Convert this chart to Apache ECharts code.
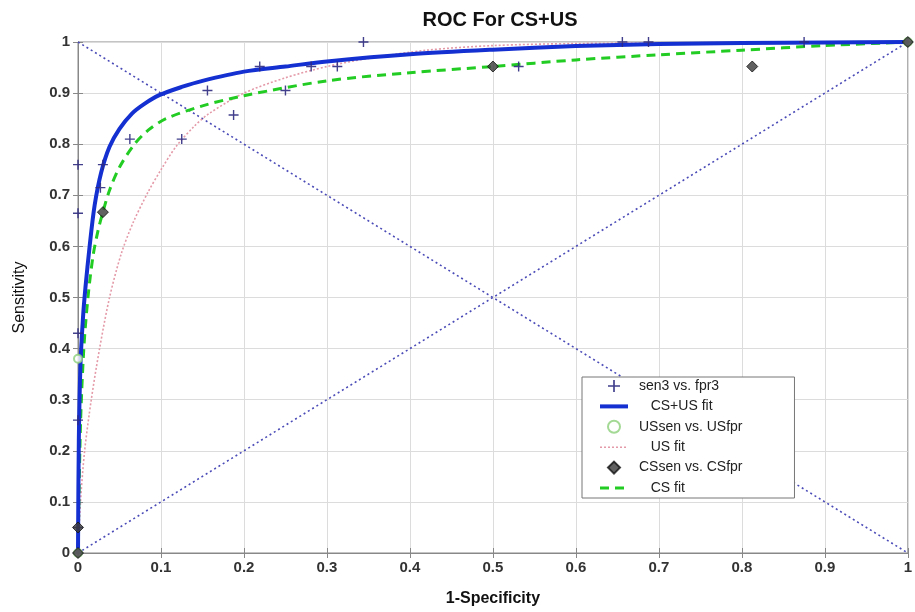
<!DOCTYPE html>
<html>
<head>
<meta charset="utf-8">
<script src="https://cdn.jsdelivr.net/npm/echarts@6.0.0/dist/echarts.min.js"></script>
<style>
  html, body { margin: 0; padding: 0; background: #fff; }
  #chart { width: 915px; height: 612px; }
</style>
</head>
<body>
<div id="chart"></div>
<script>
// sen3 vs. fpr3 (pooled points)
var fpr3 = [0, 0, 0, 0, 0, 0, 0.027, 0.03, 0.0625, 0.125, 0.156, 0.1875, 0.219, 0.25, 0.281, 0.3125, 0.344, 0.531, 0.656, 0.6875, 0.875, 1]
var sen3 = [0, 0.05, 0.26, 0.43, 0.665, 0.76, 0.715, 0.76, 0.81, 0.81, 0.905, 0.857, 0.952, 0.905, 0.952, 0.952, 1, 0.952, 1, 1, 1, 1]
// US points
var usFpr = [0, 0, 1]
var usSen = [0, 0.38, 1]
// CS points
var csFpr = [0, 0, 0.03, 0.5, 0.8125, 1]
var csSen = [0, 0.05, 0.667, 0.952, 0.952, 1]
// fitted curves
var csusFitX = [0, 0.001, 0.003, 0.006, 0.009, 0.014, 0.02, 0.028, 0.038, 0.05, 0.065, 0.08, 0.098, 0.125, 0.15, 0.2, 0.25, 0.3, 0.4, 0.5, 0.6, 0.7, 0.8, 0.9, 1]
var csusFitY = [0, 0.22, 0.37, 0.46, 0.52, 0.6, 0.68, 0.745, 0.795, 0.83, 0.86, 0.879, 0.896, 0.912, 0.924, 0.942, 0.952, 0.962, 0.976, 0.985, 0.992, 0.996, 0.998, 0.999, 1]
var usFitX = [0, 0.003, 0.008, 0.016, 0.026, 0.038, 0.052, 0.066, 0.084, 0.1, 0.118, 0.14, 0.158, 0.2, 0.25, 0.3, 0.35, 0.42, 0.5, 0.6, 0.8, 1]
var usFitY = [0, 0.1, 0.2, 0.3, 0.4, 0.5, 0.585, 0.645, 0.705, 0.75, 0.795, 0.835, 0.86, 0.9, 0.93, 0.952, 0.968, 0.984, 0.993, 0.997, 0.999, 1]
var csFitX = [0, 0.003, 0.007, 0.012, 0.018, 0.024, 0.03, 0.038, 0.05, 0.068, 0.085, 0.106, 0.15, 0.2, 0.3, 0.4, 0.5, 0.6, 0.7, 0.8, 0.9, 1]
var csFitY = [0, 0.25, 0.4, 0.5, 0.58, 0.63, 0.667, 0.71, 0.755, 0.8, 0.828, 0.85, 0.875, 0.895, 0.924, 0.94, 0.952, 0.965, 0.975, 0.984, 0.993, 1]
// chance lines
var diagUpX = [0, 1]
var diagUpY = [0, 1]
var diagDownX = [0, 1]
var diagDownY = [1, 0]

function pairs (xs, ys) {
  return xs.map(function (x, i) { return [x, ys[i]] })
}

var plusPath = 'path://M4.3,0H5.7V4.3H10V5.7H5.7V10H4.3V5.7H0V4.3H4.3Z'
var diamondPath = 'path://M5,0L10,5L5,10L0,5Z'
var font = 'Liberation Sans, Arial, sans-serif'
var hidden = { color: 'rgba(0,0,0,0)', borderWidth: 0, opacity: 0 }

var chart = echarts.init(document.getElementById('chart'))
var fitNames = ['CS+US fit', 'US fit', 'CS fit']

chart.setOption({
  animation: false,
  title: {
    text: 'ROC For CS+US',
    left: 495,
    textAlign: 'center',
    top: 5,
    textStyle: { fontFamily: font, fontSize: 20, fontWeight: 'bold', color: '#111' }
  },
  grid: {
    left: 78, right: 2, top: 42, bottom: 50,
    show: true, borderColor: '#888', borderWidth: 1
  },
  legend: {
    orient: 'vertical',
    left: 582,
    top: 377,
    padding: [2, 52, 3, 16],
    itemGap: 6.4,
    itemWidth: 28,
    itemHeight: 12,
    backgroundColor: '#fff',
    borderColor: '#777',
    borderWidth: 1,
    borderRadius: 0,
    data: [
      { name: 'sen3 vs. fpr3' },
      { name: 'CS+US fit', itemStyle: hidden, lineStyle: { width: 4 } },
      { name: 'USsen vs. USfpr' },
      { name: 'US fit', itemStyle: hidden, lineStyle: { width: 1.6 } },
      { name: 'CSsen vs. CSfpr' },
      { name: 'CS fit', itemStyle: hidden, lineStyle: { width: 3 } }
    ],
    formatter: function (name) {
      return fitNames.indexOf(name) >= 0 ? '   ' + name : name
    },
    textStyle: { fontFamily: font, fontSize: 14, color: '#222', padding: [0, 0, 0, 6] }
  },
  xAxis: [{
    type: 'value', min: 0, max: 1, interval: 0.1,
    name: '1-Specificity', nameLocation: 'middle', nameGap: 38,
    nameTextStyle: { fontFamily: font, fontSize: 16, fontWeight: 'bold', color: '#111' },
    axisLine: { lineStyle: { color: '#888' } },
    axisTick: { inside: true, length: 5, lineStyle: { color: '#888' } },
    axisLabel: { fontFamily: font, fontSize: 15, fontWeight: 'bold', color: '#333', margin: 7, showMaxLabel: true },
    splitLine: { show: true, lineStyle: { color: '#dcdcdc' } }
  }, {
    type: 'value', min: 0, max: 1, interval: 0.1, position: 'top',
    axisLine: { lineStyle: { color: '#888' } },
    axisTick: { inside: true, length: 5, lineStyle: { color: '#888' } },
    axisLabel: { show: false },
    splitLine: { show: false }
  }],
  yAxis: [{
    type: 'value', min: 0, max: 1, interval: 0.1,
    name: 'Sensitivity', nameLocation: 'middle', nameGap: 50,
    nameTextStyle: { fontFamily: font, fontSize: 16, color: '#111' },
    axisLine: { show: true, lineStyle: { color: '#888' } },
    axisTick: { show: true, inside: true, length: 5, lineStyle: { color: '#888' } },
    axisLabel: { fontFamily: font, fontSize: 15, fontWeight: 'bold', color: '#333', margin: 8 },
    splitLine: { show: true, lineStyle: { color: '#dcdcdc' } }
  }, {
    type: 'value', min: 0, max: 1, interval: 0.1, position: 'right',
    axisLine: { show: true, lineStyle: { color: '#888' } },
    axisTick: { show: true, inside: true, length: 5, lineStyle: { color: '#888' } },
    axisLabel: { show: false },
    splitLine: { show: false }
  }],
  series: [
    {
      name: 'diagUp', type: 'line', symbol: 'none', silent: true,
      data: pairs(diagUpX, diagUpY),
      lineStyle: { color: '#4b4bb8', width: 1.6, type: [2, 3] }
    },
    {
      name: 'diagDown', type: 'line', symbol: 'none', silent: true,
      data: pairs(diagDownX, diagDownY),
      lineStyle: { color: '#4b4bb8', width: 1.6, type: [2, 3] }
    },
    {
      name: 'US fit', type: 'line', symbol: 'none', smooth: 0.3,
      data: pairs(usFitX, usFitY),
      lineStyle: { color: '#e49aa8', width: 1.6, type: [2, 2] },
      itemStyle: { color: '#e49aa8' }
    },
    {
      name: 'CS fit', type: 'line', symbol: 'none', smooth: 0.3,
      data: pairs(csFitX, csFitY),
      lineStyle: { color: '#22cc22', width: 3, type: [9, 6] },
      itemStyle: { color: '#22cc22' }
    },
    {
      name: 'CS+US fit', type: 'line', symbol: 'none', smooth: 0.3,
      data: pairs(csusFitX, csusFitY),
      lineStyle: { color: '#1530d0', width: 4 },
      itemStyle: { color: '#1530d0' }
    },
    {
      name: 'sen3 vs. fpr3', type: 'scatter', symbol: plusPath, symbolSize: 10,
      data: pairs(fpr3, sen3),
      itemStyle: { color: '#2e2a80', opacity: 0.9 },
      z: 5
    },
    {
      name: 'USsen vs. USfpr', type: 'scatter', symbol: 'emptyCircle', symbolSize: 8,
      data: pairs(usFpr, usSen),
      itemStyle: { color: '#8cd07a', borderColor: '#8cd07a', borderWidth: 1.5 },
      z: 5
    },
    {
      name: 'CSsen vs. CSfpr', type: 'scatter', symbol: diamondPath, symbolSize: 11,
      data: pairs(csFpr, csSen),
      itemStyle: { color: '#3a3a3a', borderColor: '#111', borderWidth: 1 },
      z: 6
    }
  ]
})
</script>
</body>
</html>
